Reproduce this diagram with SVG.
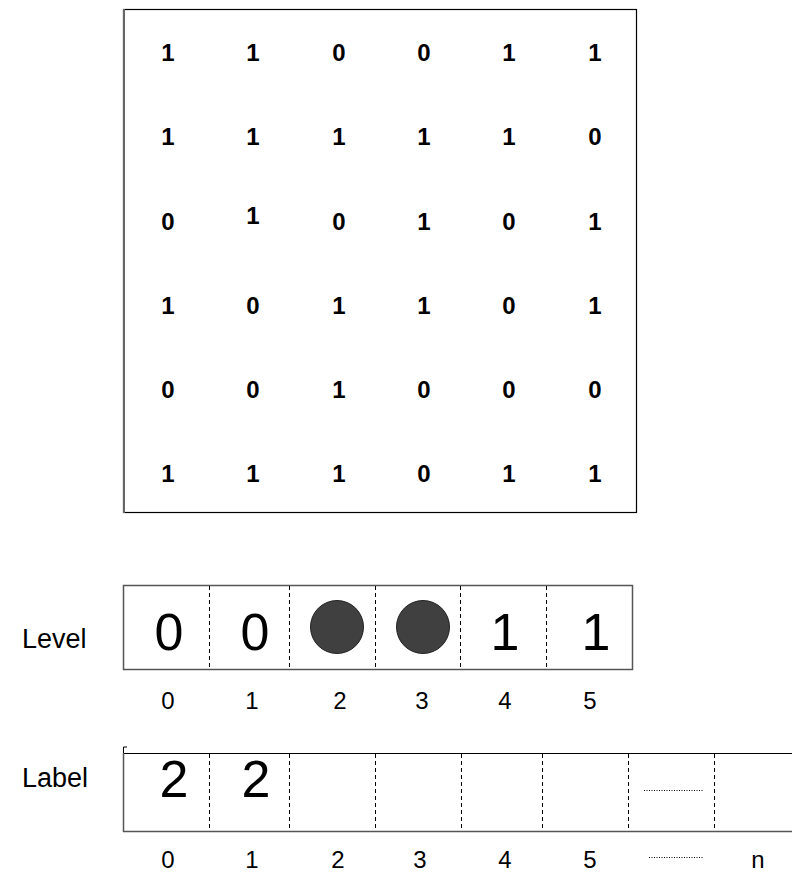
<svg xmlns="http://www.w3.org/2000/svg" width="792" height="875" viewBox="0 0 792 875">
<style>
.m{font-family:"Liberation Sans",Arial,sans-serif;font-weight:bold;font-size:24px;text-anchor:middle;fill:#000}
.big{font-family:"Liberation Sans",Arial,sans-serif;font-size:52px;text-anchor:middle;fill:#000}
.idx{font-family:"Liberation Sans",Arial,sans-serif;font-size:24px;text-anchor:middle;fill:#000}
.lbl{font-family:"Liberation Sans",Arial,sans-serif;font-size:27px;fill:#000}
.dash{stroke:#000;stroke-width:1;stroke-dasharray:4,3;fill:none}
.dot{stroke:#000;stroke-width:1;stroke-dasharray:1,1.5;fill:none}
.edge{stroke:#555;stroke-width:1.5;fill:none}
</style>
<rect width="792" height="875" fill="#fff"/>
<g id="matrix">
<rect x="123.5" y="9.5" width="513" height="503" fill="#fff" stroke="#000" stroke-width="1.2"/>
<line x1="124" y1="9" x2="124" y2="513" stroke="#666" stroke-width="2"/>
<g class="m">
<text x="168" y="61">1</text><text x="253" y="61">1</text><text x="339" y="61">0</text><text x="424" y="61">0</text><text x="509" y="61">1</text><text x="595" y="61">1</text>
<text x="168" y="145">1</text><text x="253" y="145">1</text><text x="339" y="145">1</text><text x="424" y="145">1</text><text x="509" y="145">1</text><text x="595" y="145">0</text>
<text x="168" y="230">0</text><text x="253" y="224">1</text><text x="339" y="230">0</text><text x="424" y="230">1</text><text x="509" y="230">0</text><text x="595" y="230">1</text>
<text x="168" y="314">1</text><text x="253" y="314">0</text><text x="339" y="314">1</text><text x="424" y="314">1</text><text x="509" y="314">0</text><text x="595" y="314">1</text>
<text x="168" y="398">0</text><text x="253" y="398">0</text><text x="339" y="398">1</text><text x="424" y="398">0</text><text x="509" y="398">0</text><text x="595" y="398">0</text>
<text x="168" y="482">1</text><text x="253" y="482">1</text><text x="339" y="482">1</text><text x="424" y="482">0</text><text x="509" y="482">1</text><text x="595" y="482">1</text>
</g>
</g>
<g id="level">
<text class="lbl" x="22" y="648">Level</text>
<rect x="123.5" y="585.5" width="509" height="84" class="edge"/>
<line x1="209.5" y1="586" x2="209.5" y2="669" class="dash"/>
<line x1="289.5" y1="586" x2="289.5" y2="669" class="dash"/>
<line x1="375.5" y1="586" x2="375.5" y2="669" class="dash"/>
<line x1="460.5" y1="586" x2="460.5" y2="669" class="dash"/>
<line x1="546.5" y1="586" x2="546.5" y2="669" class="dash"/>
<text class="big" x="169" y="650">0</text>
<text class="big" x="255" y="650">0</text>
<circle cx="337" cy="627" r="26.5" fill="#404040" stroke="#222" stroke-width="1"/>
<circle cx="423" cy="627" r="26.5" fill="#404040" stroke="#222" stroke-width="1"/>
<text class="big" x="505" y="650">1</text>
<text class="big" x="596" y="650">1</text>
<g class="idx">
<text x="168" y="709">0</text><text x="252" y="709">1</text><text x="340" y="709">2</text><text x="422" y="709">3</text><text x="505" y="709">4</text><text x="590" y="709">5</text>
</g>
</g>
<g id="label">
<text class="lbl" x="22" y="787">Label</text>
<polyline points="123.5,753 123.5,747 127,747" stroke="#000" stroke-width="1" fill="none"/>
<line x1="123" y1="753.5" x2="792" y2="753.5" stroke="#000" stroke-width="1.2"/>
<line x1="123.5" y1="753" x2="123.5" y2="832" class="edge"/>
<line x1="123" y1="831.5" x2="792" y2="831.5" class="edge"/>
<line x1="209.5" y1="754" x2="209.5" y2="831" class="dash"/>
<line x1="289.5" y1="754" x2="289.5" y2="831" class="dash"/>
<line x1="375.5" y1="754" x2="375.5" y2="831" class="dash"/>
<line x1="461.5" y1="754" x2="461.5" y2="831" class="dash"/>
<line x1="542.5" y1="754" x2="542.5" y2="831" class="dash"/>
<line x1="628.5" y1="754" x2="628.5" y2="831" class="dash"/>
<line x1="714.5" y1="754" x2="714.5" y2="831" class="dash"/>
<text class="big" x="174" y="797">2</text>
<text class="big" x="256" y="797">2</text>
<line x1="644" y1="790.5" x2="703" y2="790.5" class="dot"/>
<g class="idx">
<text x="168" y="868">0</text><text x="252" y="868">1</text><text x="338" y="868">2</text><text x="420" y="868">3</text><text x="505" y="868">4</text><text x="590" y="868">5</text><text x="758" y="868">n</text>
</g>
<line x1="649" y1="857.5" x2="703" y2="857.5" class="dot"/>
</g>
</svg>
